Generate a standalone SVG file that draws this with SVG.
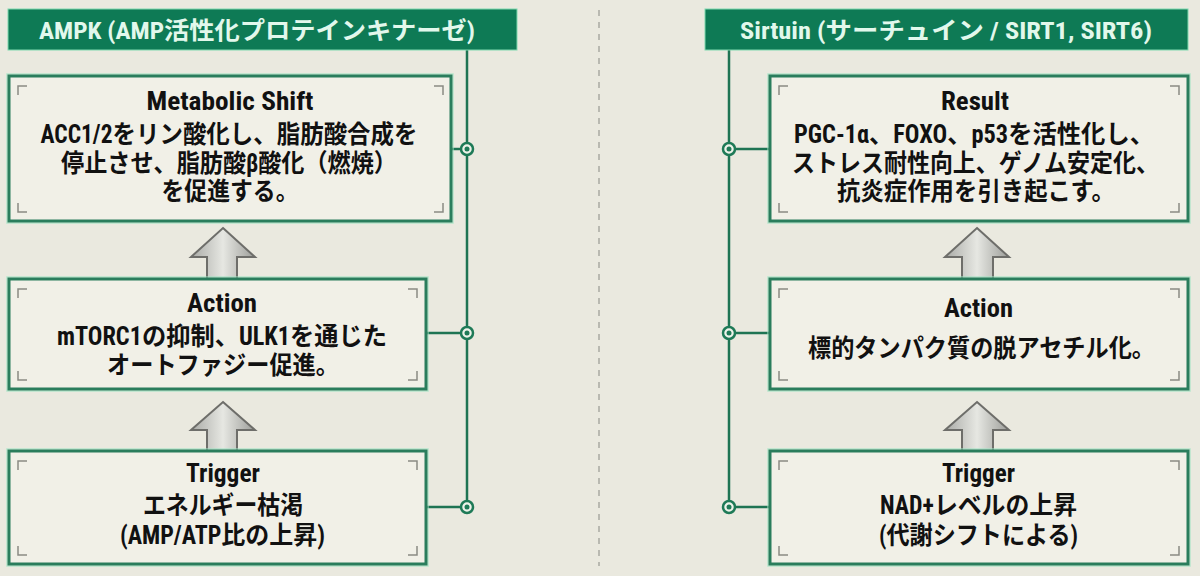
<svg xmlns="http://www.w3.org/2000/svg" width="1200" height="576" viewBox="0 0 1200 576">
<defs>
<style>
.bg{fill:#eae9df}
.hdr{fill:#0e7a55;stroke:#7fd9b0;stroke-width:1}
.hdrt{font-family:"Liberation Sans Narrow","Roboto Condensed","DejaVu Sans Condensed","Noto Sans CJK JP",sans-serif;font-weight:bold;font-size:24px;fill:#e2f8ec;text-anchor:middle}
.box{fill:#f1f0e7;stroke:#2a7d5c;stroke-width:3}
.glow{fill:none;stroke:#9fe3c2;stroke-width:1.5;opacity:0.7}
.mark{fill:none;stroke:#8a8a84;stroke-width:1.5}
.t{font-family:"Liberation Sans Narrow","Roboto Condensed","DejaVu Sans Condensed","Noto Sans CJK JP",sans-serif;font-weight:bold;font-size:25px;fill:#111;text-anchor:middle}
.ln{stroke:#1e7453;stroke-width:2.5;fill:none}
.dot{fill:#eef3ea;stroke:#1e7a57;stroke-width:2.5}
.dotc{fill:#1e7a57}
.arr{fill:url(#ag);stroke:#6e6e6a;stroke-width:2;stroke-linejoin:miter}
.div{stroke:#a9a9a2;stroke-width:1.5;stroke-dasharray:6 6}
</style>
<linearGradient id="ag" x1="0" y1="0" x2="1" y2="0">
<stop offset="0" stop-color="#a9aaa6"/>
<stop offset="0.5" stop-color="#e6e7e2"/>
<stop offset="1" stop-color="#9c9d99"/>
</linearGradient>
</defs>
<rect class="bg" x="0" y="0" width="1200" height="576"/>
<line class="div" x1="599" y1="10" x2="599" y2="566"/>

<g id="connectors">
<line class="ln" x1="467" y1="50" x2="467" y2="507"/>
<line class="ln" x1="451" y1="149" x2="467" y2="149"/>
<line class="ln" x1="426" y1="333" x2="467" y2="333"/>
<line class="ln" x1="426" y1="507" x2="467" y2="507"/>
<circle class="dot" cx="467" cy="149" r="6"/><circle class="dotc" cx="467" cy="149" r="2.5"/>
<circle class="dot" cx="467" cy="333" r="6"/><circle class="dotc" cx="467" cy="333" r="2.5"/>
<circle class="dot" cx="467" cy="507" r="6"/><circle class="dotc" cx="467" cy="507" r="2.5"/>
<line class="ln" x1="729" y1="50" x2="729" y2="507"/>
<line class="ln" x1="729" y1="149" x2="770" y2="149"/>
<line class="ln" x1="729" y1="333" x2="770" y2="333"/>
<line class="ln" x1="729" y1="507" x2="770" y2="507"/>
<circle class="dot" cx="729" cy="149" r="6"/><circle class="dotc" cx="729" cy="149" r="2.5"/>
<circle class="dot" cx="729" cy="333" r="6"/><circle class="dotc" cx="729" cy="333" r="2.5"/>
<circle class="dot" cx="729" cy="507" r="6"/><circle class="dotc" cx="729" cy="507" r="2.5"/>
<polygon class="arr" points="223,228 255,257 237,257 237,279 207,279 207,257 191,257"/>
<polygon class="arr" points="223,402 255,430 237,430 237,451 207,451 207,430 191,430"/>
<polygon class="arr" points="977,228 1009,257 993,257 993,279 962,279 962,257 945,257"/>
<polygon class="arr" points="977,402 1009,430 993,430 993,451 962,451 962,430 945,430"/>
</g>

<g id="ampk-header">
<rect class="hdr" x="8" y="9" width="509" height="41"/>
<text class="hdrt" x="257" y="38.5" textLength="436" lengthAdjust="spacingAndGlyphs">AMPK (AMP活性化プロテインキナーゼ)</text>
</g>

<g id="ampk-metabolic">
<rect class="glow" x="7" y="74" width="446" height="149"/>
<rect class="box" x="9" y="76" width="442" height="145"/>
<path class="mark" d="M18,95 V86 H27 M434,86 H443 V95 M18,203 V212 H27 M434,212 H443 V203"/>
<text class="t" x="230" y="110" textLength="167" lengthAdjust="spacingAndGlyphs">Metabolic Shift</text>
<text class="t" x="229" y="143" textLength="377" lengthAdjust="spacingAndGlyphs">ACC1/2をリン酸化し、脂肪酸合成を</text>
<text class="t" x="229" y="172" textLength="336" lengthAdjust="spacingAndGlyphs">停止させ、脂肪酸β酸化（燃焼）</text>
<text class="t" x="230" y="200" textLength="137" lengthAdjust="spacingAndGlyphs">を促進する。</text>
</g>

<g id="ampk-action">
<rect class="glow" x="7" y="277" width="421" height="114"/>
<rect class="box" x="9" y="279" width="417" height="110"/>
<path class="mark" d="M18,298 V289 H27 M408,289 H417 V298 M18,371 V380 H27 M408,380 H417 V371"/>
<text class="t" x="222" y="312" textLength="70" lengthAdjust="spacingAndGlyphs">Action</text>
<text class="t" x="222" y="345" textLength="330" lengthAdjust="spacingAndGlyphs">mTORC1の抑制、ULK1を通じた</text>
<text class="t" x="223" y="374" textLength="232" lengthAdjust="spacingAndGlyphs">オートファジー促進。</text>
</g>

<g id="ampk-trigger">
<rect class="glow" x="7" y="449" width="421" height="117"/>
<rect class="box" x="9" y="451" width="417" height="113"/>
<path class="mark" d="M18,470 V461 H27 M408,461 H417 V470 M18,546 V555 H27 M408,555 H417 V546"/>
<text class="t" x="223" y="482" textLength="74" lengthAdjust="spacingAndGlyphs">Trigger</text>
<text class="t" x="223" y="514" textLength="160" lengthAdjust="spacingAndGlyphs">エネルギー枯渇</text>
<text class="t" x="222.5" y="544" textLength="205" lengthAdjust="spacingAndGlyphs">(AMP/ATP比の上昇)</text>
</g>

<g id="sirtuin-header">
<rect class="hdr" x="705" y="9" width="483" height="41"/>
<text class="hdrt" x="946" y="38.5" textLength="412" lengthAdjust="spacingAndGlyphs">Sirtuin (サーチュイン / SIRT1, SIRT6)</text>
</g>

<g id="sirtuin-result">
<rect class="glow" x="768" y="74" width="422" height="149"/>
<rect class="box" x="770" y="76" width="418" height="145"/>
<path class="mark" d="M779,95 V86 H788 M1170,86 H1179 V95 M779,203 V212 H788 M1170,212 H1179 V203"/>
<text class="t" x="975" y="110" textLength="68" lengthAdjust="spacingAndGlyphs">Result</text>
<text class="t" x="974" y="143" textLength="360" lengthAdjust="spacingAndGlyphs">PGC-1α、FOXO、p53を活性化し、</text>
<text class="t" x="975.5" y="172" textLength="367" lengthAdjust="spacingAndGlyphs">ストレス耐性向上、ゲノム安定化、</text>
<text class="t" x="976" y="200" textLength="278" lengthAdjust="spacingAndGlyphs">抗炎症作用を引き起こす。</text>
</g>

<g id="sirtuin-action">
<rect class="glow" x="768" y="277" width="422" height="114"/>
<rect class="box" x="770" y="279" width="418" height="110"/>
<path class="mark" d="M779,298 V289 H788 M1170,289 H1179 V298 M779,371 V380 H788 M1170,380 H1179 V371"/>
<text class="t" x="978.5" y="317" textLength="69" lengthAdjust="spacingAndGlyphs">Action</text>
<text class="t" x="981.5" y="357" textLength="347" lengthAdjust="spacingAndGlyphs">標的タンパク質の脱アセチル化。</text>
</g>

<g id="sirtuin-trigger">
<rect class="glow" x="768" y="449" width="422" height="117"/>
<rect class="box" x="770" y="451" width="418" height="113"/>
<path class="mark" d="M779,470 V461 H788 M1170,461 H1179 V470 M779,546 V555 H788 M1170,555 H1179 V546"/>
<text class="t" x="978.5" y="482" textLength="73" lengthAdjust="spacingAndGlyphs">Trigger</text>
<text class="t" x="978.5" y="514" textLength="197" lengthAdjust="spacingAndGlyphs">NAD+レベルの上昇</text>
<text class="t" x="978.5" y="544" textLength="199" lengthAdjust="spacingAndGlyphs">(代謝シフトによる)</text>
</g>
</svg>
